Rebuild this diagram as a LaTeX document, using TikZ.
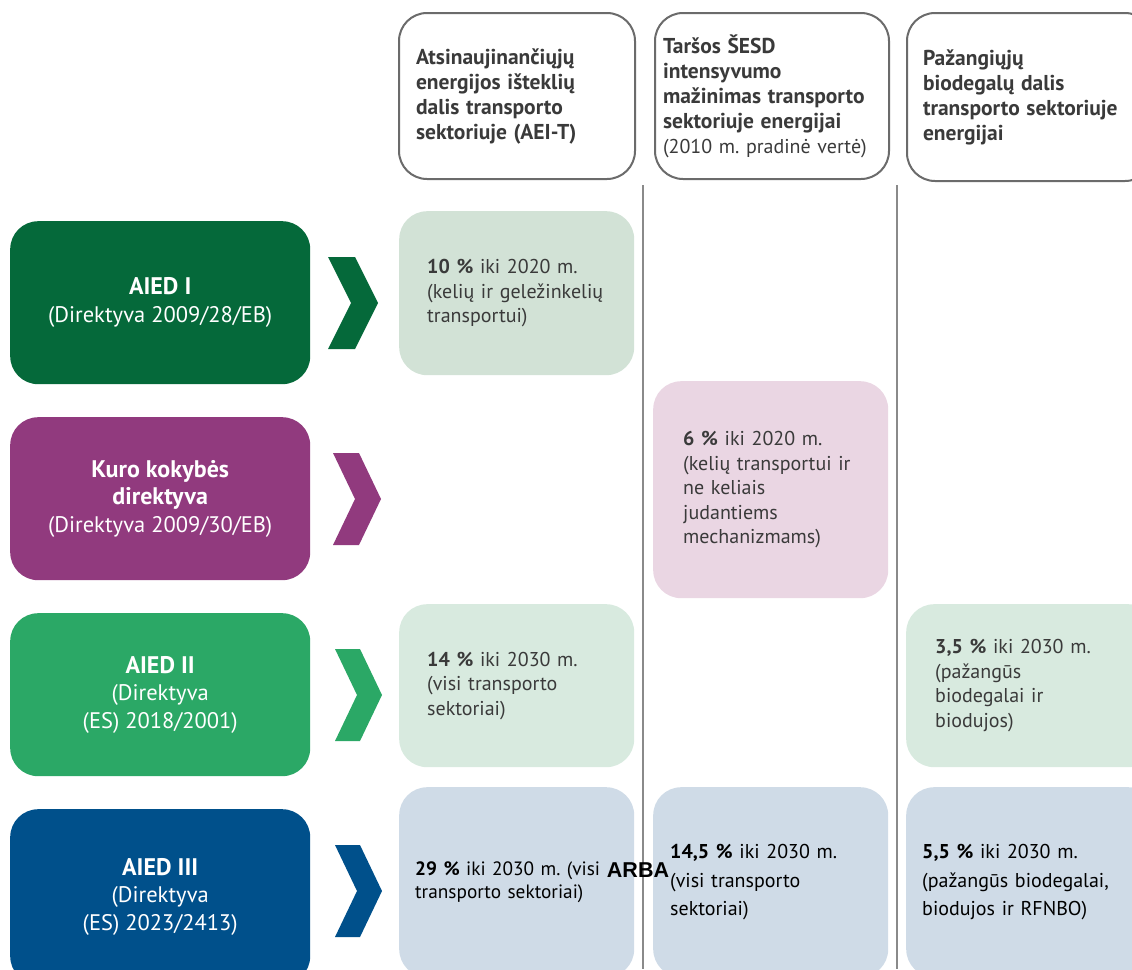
\documentclass[tikz,border=0pt]{standalone}
\usepackage{fontspec}
\setmainfont{PT Sans}
\newfontfamily\arbafont{Liberation Sans}
\frenchspacing
\definecolor{cdgreen}{HTML}{05693A}
\definecolor{cpurple}{HTML}{913A7E}
\definecolor{cgreen}{HTML}{2BA866}
\definecolor{cblue}{HTML}{00508B}
\definecolor{crowa}{HTML}{D2E2D6}
\definecolor{cpink}{HTML}{EAD6E3}
\definecolor{crowc}{HTML}{D8EADF}
\definecolor{crowd}{HTML}{CFDBE7}
\definecolor{chdr}{HTML}{6B6B6B}
\definecolor{ctxt}{HTML}{3A3A3A}
\definecolor{cline}{HTML}{8A8A8A}
\begin{document}
\begin{tikzpicture}[x=1pt,y=-1pt,
  hdrbox/.style={draw=chdr, line width=2pt, rounded corners=28pt, fill=white,
    align=left, anchor=north west, text=ctxt, inner ysep=0pt,
    font=\fontsize{20}{25}\selectfont},
  dirbox/.style={rounded corners=28pt, text=white, align=center, anchor=north west,
    minimum width=300pt, minimum height=163pt, inner sep=0pt,
    font=\fontsize{22.5}{27.5}\selectfont},
  valbox/.style={rounded corners=28pt, align=left, anchor=north west, inner ysep=0pt,
    text=ctxt, font=\fontsize{20}{24.5}\selectfont},
  lastbox/.style={valbox, text=black, font=\fontsize{20}{28.5}\selectfont},
  chev/.style={fill=#1},
  sep/.style={draw=cline, line width=1.3pt}
]
\useasboundingbox (0,0) rectangle (1132,969);
\newcommand{\hbf}[1]{{\fontsize{21.5}{25}\selectfont\bfseries #1}}
\newcommand{\dbf}[1]{{\fontsize{24}{27.5}\selectfont\bfseries #1}}

% header boxes
\node[hdrbox, minimum width=236pt, minimum height=166pt, inner xsep=17pt, text width=202pt] (h1) at (398,12)
  {\hbf{Atsinaujinančiųjų}\\\hbf{energijos išteklių}\\\hbf{dalis transporto}\\\hbf{sektoriuje (AEI-T)}};
\node[hdrbox, minimum width=234pt, minimum height=166pt, inner xsep=8pt, text width=218pt] (h2) at (654,12)
  {\hbf{Taršos ŠESD}\\\hbf{intensyvumo}\\\hbf{mažinimas transporto}\\\hbf{sektoriuje energijai}\\(2010 m. pradinė vertė)};
\node[hdrbox, minimum width=246pt, minimum height=168pt, inner xsep=16pt, text width=214pt] (h3) at (906,12)
  {\hbf{Pažangiųjų}\\\hbf{biodegalų dalis}\\\hbf{transporto sektoriuje}\\\hbf{energijai}};

% separators
\coordinate (s1a) at (643,185); \coordinate (s1b) at (643,969);
\coordinate (s2a) at (897,185); \coordinate (s2b) at (897,969);
\draw[sep] (s1a) -- (s1b);
\draw[sep] (s2a) -- (s2b);

% directive boxes
\node[dirbox, fill=cdgreen] (d1) at (10,221) {\dbf{AIED I}\\(Direktyva 2009/28/EB)};
\node[dirbox, fill=cpurple] (d2) at (10,417) {\dbf{Kuro kokybės}\\\dbf{direktyva}\\(Direktyva 2009/30/EB)};
\node[dirbox, fill=cgreen] (d3) at (10,613) {\dbf{AIED II}\\(Direktyva\\(ES) 2018/2001)};
\node[dirbox, fill=cblue, minimum height=175pt] (d4) at (10,809) {\dbf{AIED III}\\(Direktyva\\(ES) 2023/2413)};

% chevrons
\fill[chev=cdgreen] (328,257) -- (355,257) -- (378,303) -- (355,349) -- (328,349) -- (351,303) -- cycle;
\fill[chev=cpurple] (333,453) -- (359,453) -- (381,499) -- (359,545) -- (333,545) -- (355,499) -- cycle;
\fill[chev=cgreen] (335,649) -- (360,649) -- (382,695) -- (360,741) -- (335,741) -- (357,695) -- cycle;
\fill[chev=cblue] (335,845) -- (360,845) -- (382,891) -- (360,937) -- (335,937) -- (357,891) -- cycle;

% values
\node[valbox, fill=crowa, minimum width=235pt, minimum height=164pt, inner xsep=28pt, text width=179pt] (v11) at (399,211)
  {\textbf{10 \%} iki 2020 m.\\(kelių ir geležinkelių\\transportui)};
\node[valbox, fill=cpink, minimum width=235pt, minimum height=217pt, inner xsep=30pt, text width=175pt] (v22) at (653,381)
  {\textbf{6 \%} iki 2020 m.\\(kelių transportui ir\\ne keliais\\judantiems\\mechanizmams)};
\node[valbox, fill=crowc, minimum width=235pt, minimum height=163pt, inner xsep=28pt, text width=179pt] (v31) at (399,604)
  {\textbf{14 \%} iki 2030 m.\\(visi transporto\\sektoriai)};
\node[valbox, fill=crowc, minimum width=250pt, minimum height=163pt, inner xsep=29pt, text width=192pt] (v33) at (906,604)
  {\textbf{3,5 \%} iki 2030 m.\\(pažangūs\\biodegalai ir\\biodujos)};
\node[lastbox, font=\fontsize{19.3}{23.5}\selectfont, fill=crowd, minimum width=235pt, minimum height=190pt, inner xsep=16pt, text width=203pt] (v41) at (399,787)
  {\textbf{29 \%} iki 2030 m. (visi\\transporto sektoriai)};
\node[lastbox, fill=crowd, minimum width=235pt, minimum height=190pt, inner xsep=17pt, text width=201pt] (v42) at (653,787)
  {\textbf{14,5 \%} iki 2030 m.\\(visi transporto\\sektoriai)};
\node[lastbox, fill=crowd, minimum width=250pt, minimum height=190pt, inner xsep=16pt, text width=218pt] (v43) at (906,787)
  {\textbf{5,5 \%} iki 2030 m.\\(pažangūs biodegalai,\\biodujos ir RFNBO)};

\node[font=\fontsize{21.5}{23}\selectfont\arbafont\bfseries, inner sep=0pt] (arba) at (638,870) {ARBA};
\end{tikzpicture}
\end{document}
